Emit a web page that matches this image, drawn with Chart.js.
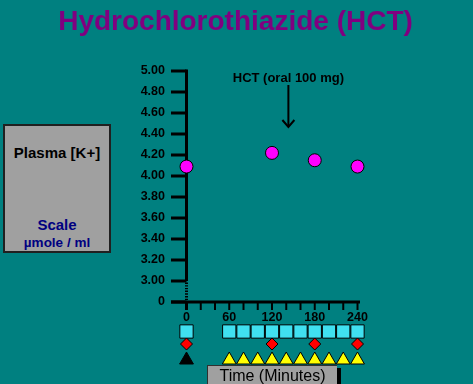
<!DOCTYPE html>
<html>
<head>
<meta charset="utf-8">
<script src="https://cdn.jsdelivr.net/npm/chart.js@4.4.1/dist/chart.umd.min.js"></script>
<style>
  html, body { margin: 0; padding: 0; background: #008080; overflow: hidden; }
  #wrap { position: relative; width: 473px; height: 384px; background: #008080; font-family: "Liberation Sans", Arial, sans-serif; }
  canvas { position: absolute; left: 0; top: 0; }
  #title { position: absolute; left: 0; width: 471px; top: 4px; text-align: center; color: #800080; font-weight: bold; font-size: 28px; line-height: 34px; }
  #leftBox { position: absolute; left: 3px; top: 124px; width: 108px; height: 129px; box-sizing: border-box; background: #a0a0a0; border: 2px solid #202020; }
  #leftBox .l1 { position: absolute; left: 0; right: 0; top: 18px; text-align: center; font-weight: bold; font-size: 15px; color: #000; }
  #leftBox .l2 { position: absolute; left: 0; right: 0; top: 90px; text-align: center; font-weight: bold; font-size: 15px; color: #000080; }
  #leftBox .l3 { position: absolute; left: 0; right: 0; top: 109px; text-align: center; font-weight: bold; font-size: 13.5px; color: #000080; }
  #timeBox { position: absolute; left: 207px; top: 365px; width: 130px; height: 26px; box-sizing: border-box; background: #a0a0a0; border-top: 1px solid #303030; border-left: 1px solid #303030; box-shadow: 4px 3px 0 #000; text-align: center; font-size: 16px; line-height: 20px; color: #000; }
</style>
</head>
<body>
<div id="wrap">
  <canvas id="c" width="473" height="384"></canvas>
  <div id="title">Hydrochlorothiazide (HCT)</div>
  <div id="leftBox">
    <div class="l1">Plasma [K+]</div>
    <div class="l2">Scale</div>
    <div class="l3">µmole / ml</div>
  </div>
  <div id="timeBox">Time (Minutes)</div>
</div>
<script>
// ---- data ----
const sampleTimes = [0, 120, 180, 240];
const potassium = [4.09, 4.22, 4.15, 4.09];
const yTickLabels = ['0', '3.00', '3.20', '3.40', '3.60', '3.80', '4.00', '4.20', '4.40', '4.60', '4.80', '5.00'];
const xTickLabels = ['0', '60', '120', '180', '240'];
const squareTimes = [0, 60, 80, 100, 120, 140, 160, 180, 200, 220, 240];
const diamondTimes = [0, 120, 180, 240];
const blackTriangleTimes = [0];
const yellowTriangleTimes = [60, 80, 100, 120, 140, 160, 180, 200, 220, 240];
const doseTime = 143;
const doseLabel = 'HCT (oral 100 mg)';

const FONT = '"Liberation Sans", Arial, sans-serif';

function drawMarker(ctx, style, radius, px, py) {
  if (Chart.helpers && Chart.helpers.drawPoint) {
    Chart.helpers.drawPoint(ctx, { pointStyle: style, radius: radius, rotation: 0, borderWidth: 1 }, px, py);
  }
}

const axesPlugin = {
  id: 'customAxes',
  beforeDatasetsDraw(chart) {
    const { ctx, scales: { x, y } } = chart;
    const x0 = x.getPixelForValue(0);
    const yTop = y.getPixelForValue(y.max);
    const yBreak = y.getPixelForValue(3.0);
    const yBot = y.getPixelForValue(y.min);
    const line = (a, b, c, d) => { ctx.beginPath(); ctx.moveTo(a, b); ctx.lineTo(c, d); ctx.stroke(); };
    ctx.save();
    ctx.strokeStyle = '#000';
    ctx.lineCap = 'butt';
    ctx.lineWidth = 3;
    y.ticks.forEach(t => { const py = y.getPixelForValue(t.value); line(x0 - 15.5, py, x0, py); });
    line(x0, yTop - 1.5, x0, yBreak);
    ctx.setLineDash([1.4, 1.3]);
    line(x0, yBreak + 1.5, x0, yBot - 1.5);
    ctx.setLineDash([]);
    line(x0 - 15.5, yBot, x.right, yBot);
    x.ticks.forEach(t => {
      const px = x.getPixelForValue(t.value);
      ctx.lineWidth = t.value === 0 ? 3 : 2;
      line(px, yBot, px, yBot + 8);
    });
    // dose annotation
    const dx = x.getPixelForValue(doseTime);
    ctx.fillStyle = '#000';
    ctx.font = 'bold 13px ' + FONT;
    ctx.textAlign = 'center';
    ctx.textBaseline = 'alphabetic';
    ctx.fillText(doseLabel, dx, yTop + 11);
    ctx.lineWidth = 2;
    line(dx, yTop + 14, dx, yTop + 56);
    ctx.beginPath();
    ctx.moveTo(dx - 6, yTop + 49);
    ctx.lineTo(dx, yTop + 56);
    ctx.lineTo(dx + 6, yTop + 49);
    ctx.stroke();
    // sampling markers
    ctx.lineWidth = 1;
    ctx.strokeStyle = '#000';
    ctx.fillStyle = '#40e0f0';
    squareTimes.forEach(t => drawMarker(ctx, 'rect', 9.4, x.getPixelForValue(t), yBot + 29.5));
    ctx.fillStyle = '#ff0000';
    diamondTimes.forEach(t => drawMarker(ctx, 'rectRot', 6, x.getPixelForValue(t), yBot + 42));
    ctx.fillStyle = '#000000';
    blackTriangleTimes.forEach(t => drawMarker(ctx, 'triangle', 8, x.getPixelForValue(t), yBot + 58));
    ctx.fillStyle = '#ffff00';
    yellowTriangleTimes.forEach(t => drawMarker(ctx, 'triangle', 8, x.getPixelForValue(t), yBot + 58));
    ctx.restore();
  }
};

new Chart(document.getElementById('c'), {
  type: 'scatter',
  data: {
    datasets: [{
      data: sampleTimes.map((t, i) => ({ x: t, y: potassium[i] })),
      backgroundColor: '#ff00ff',
      borderColor: '#000',
      borderWidth: 1,
      pointRadius: 6.5,
      clip: false
    }]
  },
  options: {
    responsive: false,
    animation: false,
    devicePixelRatio: 1,
    layout: { padding: { top: 71, right: 113, left: 0, bottom: 0 } },
    plugins: { legend: { display: false }, tooltip: { enabled: false }, title: { display: false } },
    scales: {
      x: {
        type: 'linear',
        min: 0,
        max: 243.5,
        grid: { display: false, drawTicks: false },
        border: { display: false },
        afterFit(s) { s.height = 82; },
        ticks: {
          stepSize: 20,
          includeBounds: false,
          autoSkip: false,
          maxRotation: 0,
          padding: 8,
          color: '#000',
          font: { family: FONT, size: 12.5, weight: 'bold' },
          callback: (v) => (v % 60 === 0 ? xTickLabels[v / 60] : '')
        }
      },
      y: {
        type: 'linear',
        min: 2.8,
        max: 5.0,
        beginAtZero: false,
        grid: { display: false, drawTicks: false },
        border: { display: false },
        afterFit(s) { s.width = 186.5; },
        ticks: {
          stepSize: 0.2,
          includeBounds: false,
          autoSkip: false,
          padding: 21.5,
          color: '#000',
          font: { family: FONT, size: 12.5, weight: 'bold' },
          callback: (v, i) => yTickLabels[i]
        }
      }
    }
  },
  plugins: [axesPlugin]
});
</script>
</body>
</html>
